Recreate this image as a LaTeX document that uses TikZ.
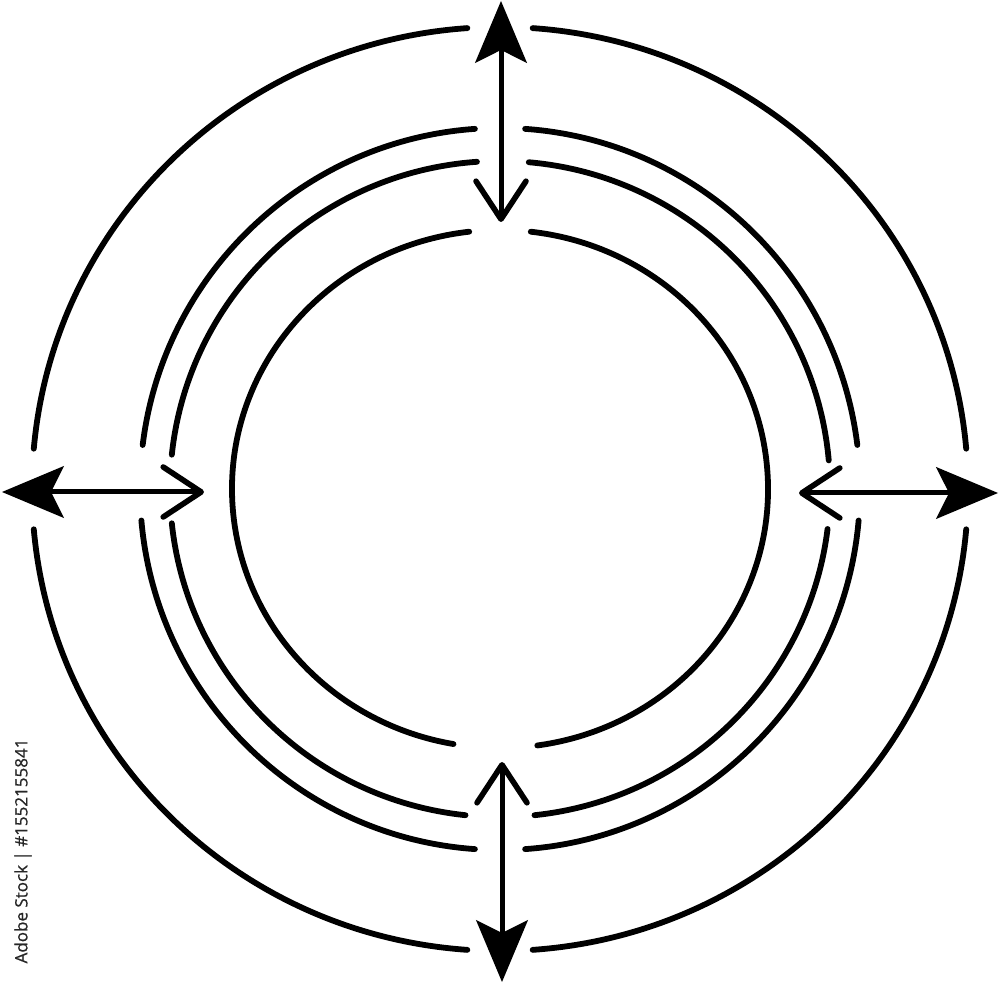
\documentclass[tikz,border=0pt]{standalone}
\usepackage{fontspec}
\usetikzlibrary{arrows.meta}
\newfontfamily\wmfont[FakeBold=0.8]{Open Sans}
\begin{document}
\begin{tikzpicture}[x=1pt,y=1pt,
  ring/.style={line width=5.8pt, line cap=round},
  dbl/.style={line width=5pt,
    {Stealth[length=62pt,width=52pt,inset=13pt,line width=1.5pt]}-{Straight Barb[length=38pt,width=50pt,line width=5.6pt,round]}},
  wm/.style={font=\wmfont\fontsize{17}{20}\selectfont, text=black!85, rotate=90, inner sep=0pt}]
\useasboundingbox (0,0) rectangle (1000,984);
\coordinate (c) at (500,495);
% outer ring
\foreach \a/\b in {94/175, 185/266, 274/355, 5/86}
  \draw[ring] ([shift={(c)}]\a:468 and 462) arc[start angle=\a, end angle=\b, x radius=468, y radius=462];
% ring 2
\foreach \a/\b in {94/173, 185/266, 274/355, 7/86}
  \draw[ring] ([shift={(c)}]\a:360 and 361) arc[start angle=\a, end angle=\b, x radius=360, y radius=361];
% ring 3
\foreach \a/\b in {94/174, 186/264, 276/353, 5/85}
  \draw[ring] ([shift={(c)}]\a:330 and 328) arc[start angle=\a, end angle=\b, x radius=330, y radius=328];
% inner ring
\foreach \a/\b in {96.6/260, 278/443.4}
  \draw[ring] ([shift={(c)}]\a:268 and 259) arc[start angle=\a, end angle=\b, x radius=268, y radius=259];
% arrow end points
\coordinate (lbig) at (2,492);
\coordinate (lchev) at (204,492);
\coordinate (rbig) at (998,491);
\coordinate (rchev) at (799,491);
\coordinate (tbig) at (501,983);
\coordinate (tchev) at (501,762);
\coordinate (bbig) at (502,2);
\coordinate (bchev) at (502,222);
\draw[dbl] (lbig) -- (lchev);
\draw[dbl] (rbig) -- (rchev);
\draw[dbl] (tbig) -- (tchev);
\draw[dbl] (bbig) -- (bchev);
\node[wm] (mark) at (23,133) {Adobe Stock | \#1552155841};
\end{tikzpicture}
\end{document}
